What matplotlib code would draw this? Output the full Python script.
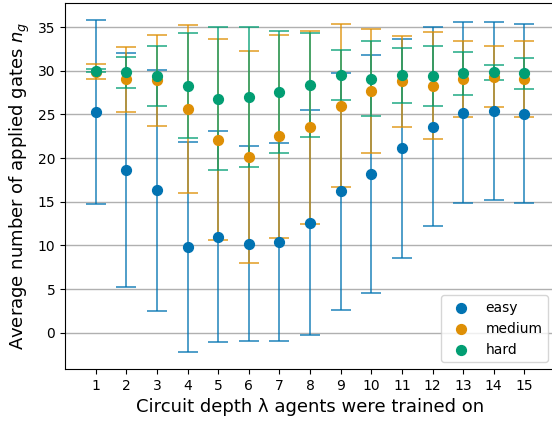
import numpy as np
import matplotlib
matplotlib.use("Agg")
import matplotlib.pyplot as plt

# circuit depth the agents were trained on
depth = np.arange(1, 16)

# mean number of applied gates and std (symmetric error bars)
easy_mean = [25.3, 18.6, 16.3, 9.8, 11.0, 10.2, 10.4, 12.6, 16.2, 18.2, 21.1, 23.6, 25.2, 25.4, 25.1]
easy_std = [10.55, 13.4, 13.8, 12.05, 12.05, 11.2, 11.35, 12.9, 13.55, 13.6, 12.5, 11.4, 10.35, 10.2, 10.25]

medium_mean = [29.9, 29.0, 28.9, 25.6, 22.1, 20.1, 22.5, 23.5, 26.0, 27.7, 28.8, 28.3, 29.0, 29.3, 29.0]
medium_std = [0.85, 3.75, 5.2, 9.65, 11.5, 12.15, 11.6, 11.1, 9.3, 7.1, 5.2, 6.1, 4.35, 3.5, 4.35]

hard_mean = [30.0, 29.8, 29.4, 28.3, 26.8, 27.0, 27.6, 28.4, 29.5, 29.1, 29.5, 29.4, 29.7, 29.8, 29.7]
hard_std = [0.2, 1.8, 3.45, 6.0, 8.2, 8.05, 7.0, 5.95, 2.9, 4.3, 3.15, 3.45, 2.45, 0.9, 1.8]

series = [("easy", easy_mean, easy_std, "#0173b2"),
          ("medium", medium_mean, medium_std, "#de8f05"),
          ("hard", hard_mean, hard_std, "#029e73")]

fig = plt.figure(figsize=(5.52, 4.21), dpi=100)
ax = fig.add_axes([65/552, 1 - 369/421, 490/552, 366/421])

for name, m, s, c in series:
    ax.errorbar(depth, m, yerr=s, fmt="none", ecolor=c, alpha=0.75,
                capsize=7, elinewidth=1.3, capthick=1.3)
for name, m, s, c in series:
    ax.scatter(depth, m, s=50, color=c, label=name, zorder=3)

ax.set_xlim(0, 16)
ax.set_xticks(depth)
ax.grid(axis="y", color="#b0b0b0", linewidth=1)
ax.set_axisbelow(True)
ax.tick_params(labelsize=10)
ax.set_xlabel("Circuit depth λ agents were trained on", fontsize=13)
ax.set_ylabel("Average number of applied gates $n_g$", fontsize=13)
ax.legend(loc="lower right", fontsize=10, scatterpoints=1)

fig.savefig("out.png", dpi=100)
